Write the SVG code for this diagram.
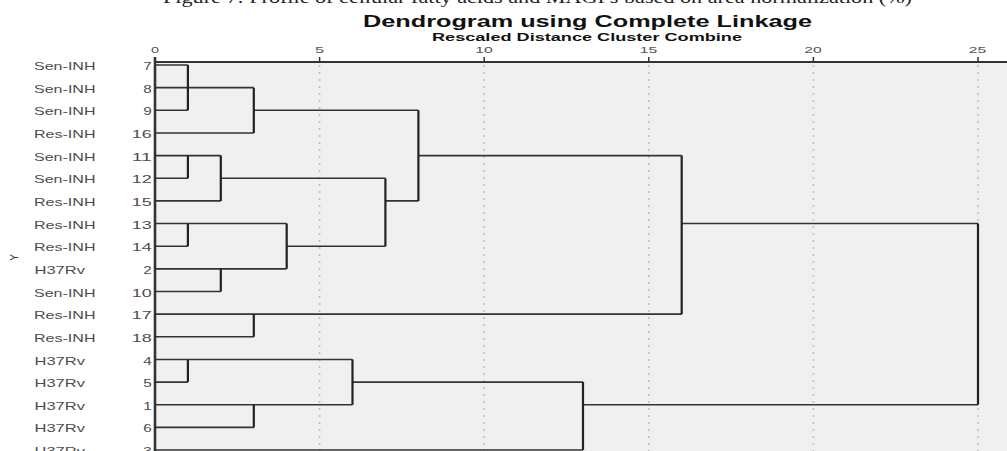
<svg xmlns="http://www.w3.org/2000/svg" width="1007" height="451" viewBox="0 0 1007 451">
<style>
.cap{font-family:"Liberation Serif",serif;font-size:17px;fill:#222}
.ttl{font-family:"Liberation Sans",Arial,sans-serif;font-weight:bold;fill:#111}
.lab{font-family:"Liberation Sans",Arial,sans-serif;font-size:10.5px;fill:#4d4d4d}
.num{font-family:"Liberation Sans",Arial,sans-serif;font-size:10.5px;fill:#4d4d4d;text-anchor:end}
.tick{font-family:"Liberation Sans",Arial,sans-serif;font-size:8.5px;fill:#555;text-anchor:middle}
.grid{stroke:#bdbdbd;stroke-width:1.5;stroke-dasharray:2 5;fill:none}
.h{stroke:#333;stroke-width:1.6;fill:none}
.v{stroke:#222;stroke-width:2.2;fill:none}
.ax{stroke:#333;fill:none}
</style>
<rect x="0" y="0" width="1007" height="451" fill="#fff"/>
<text class="cap" x="163" y="3" textLength="749" lengthAdjust="spacingAndGlyphs">Figure 7: Profile of cellular fatty acids and MAGPs based on area normalization (%)</text>
<text class="ttl" x="363" y="27" font-size="16" textLength="449" lengthAdjust="spacingAndGlyphs">Dendrogram using Complete Linkage</text>
<text class="ttl" x="432" y="40.5" font-size="10" textLength="310" lengthAdjust="spacingAndGlyphs">Rescaled Distance Cluster Combine</text>

<g id="plot-area">
<rect x="155" y="62" width="852" height="389" fill="#f0f0f0"/>
<line class="grid" x1="319.6" y1="65" x2="319.6" y2="451"/>
<line class="grid" x1="484.2" y1="65" x2="484.2" y2="451"/>
<line class="grid" x1="648.8" y1="65" x2="648.8" y2="451"/>
<line class="grid" x1="813.4" y1="65" x2="813.4" y2="451"/>
<line class="grid" x1="978" y1="65" x2="978" y2="451"/>
</g>

<g id="axis">
<line class="ax" x1="155" y1="62" x2="1007" y2="62" stroke-width="2"/>
<line class="ax" x1="155" y1="57" x2="155" y2="451" stroke-width="2.6"/>
<g stroke="#333" stroke-width="1.5">
<line x1="319.6" y1="57" x2="319.6" y2="62"/>
<line x1="484.2" y1="57" x2="484.2" y2="62"/>
<line x1="648.8" y1="57" x2="648.8" y2="62"/>
<line x1="813.4" y1="57" x2="813.4" y2="62"/>
<line x1="978" y1="57" x2="978" y2="62"/>
</g>
<text class="tick" x="155" y="52.5" textLength="8" lengthAdjust="spacingAndGlyphs">0</text>
<text class="tick" x="319.6" y="52.5" textLength="9" lengthAdjust="spacingAndGlyphs">5</text>
<text class="tick" x="484" y="52.5" textLength="17.5" lengthAdjust="spacingAndGlyphs">10</text>
<text class="tick" x="648.5" y="52.5" textLength="17.5" lengthAdjust="spacingAndGlyphs">15</text>
<text class="tick" x="813" y="52.5" textLength="17.5" lengthAdjust="spacingAndGlyphs">20</text>
<text class="tick" x="977.5" y="52.5" textLength="17.5" lengthAdjust="spacingAndGlyphs">25</text>
<text x="18" y="257.5" transform="rotate(-90 18 257.5)" font-family="Liberation Sans, Arial, sans-serif" font-size="10" fill="#333" text-anchor="middle">Y</text>
</g>

<g id="leaves">
<g id="leaf-7"><text class="lab" x="34" y="70" textLength="61.5" lengthAdjust="spacingAndGlyphs">Sen-INH</text><text class="num" x="151.7" y="70" textLength="8.5" lengthAdjust="spacingAndGlyphs">7</text></g>
<g id="leaf-8"><text class="lab" x="34" y="92.7" textLength="61.5" lengthAdjust="spacingAndGlyphs">Sen-INH</text><text class="num" x="151.7" y="92.7" textLength="8.5" lengthAdjust="spacingAndGlyphs">8</text></g>
<g id="leaf-9"><text class="lab" x="34" y="115.3" textLength="61.5" lengthAdjust="spacingAndGlyphs">Sen-INH</text><text class="num" x="151.7" y="115.3" textLength="8.5" lengthAdjust="spacingAndGlyphs">9</text></g>
<g id="leaf-16"><text class="lab" x="34" y="138" textLength="61.5" lengthAdjust="spacingAndGlyphs">Res-INH</text><text class="num" x="151.7" y="138" textLength="20" lengthAdjust="spacingAndGlyphs">16</text></g>
<g id="leaf-11"><text class="lab" x="34" y="160.6" textLength="61.5" lengthAdjust="spacingAndGlyphs">Sen-INH</text><text class="num" x="151.7" y="160.6" textLength="20" lengthAdjust="spacingAndGlyphs">11</text></g>
<g id="leaf-12"><text class="lab" x="34" y="183.3" textLength="61.5" lengthAdjust="spacingAndGlyphs">Sen-INH</text><text class="num" x="151.7" y="183.3" textLength="20" lengthAdjust="spacingAndGlyphs">12</text></g>
<g id="leaf-15"><text class="lab" x="34" y="205.9" textLength="61.5" lengthAdjust="spacingAndGlyphs">Res-INH</text><text class="num" x="151.7" y="205.9" textLength="20" lengthAdjust="spacingAndGlyphs">15</text></g>
<g id="leaf-13"><text class="lab" x="34" y="228.6" textLength="61.5" lengthAdjust="spacingAndGlyphs">Res-INH</text><text class="num" x="151.7" y="228.6" textLength="20" lengthAdjust="spacingAndGlyphs">13</text></g>
<g id="leaf-14"><text class="lab" x="34" y="251.2" textLength="61.5" lengthAdjust="spacingAndGlyphs">Res-INH</text><text class="num" x="151.7" y="251.2" textLength="20" lengthAdjust="spacingAndGlyphs">14</text></g>
<g id="leaf-2"><text class="lab" x="34.5" y="273.9" textLength="50.5" lengthAdjust="spacingAndGlyphs">H37Rv</text><text class="num" x="151.7" y="273.9" textLength="8.5" lengthAdjust="spacingAndGlyphs">2</text></g>
<g id="leaf-10"><text class="lab" x="34" y="296.5" textLength="61.5" lengthAdjust="spacingAndGlyphs">Sen-INH</text><text class="num" x="151.7" y="296.5" textLength="20" lengthAdjust="spacingAndGlyphs">10</text></g>
<g id="leaf-17"><text class="lab" x="34" y="319.2" textLength="61.5" lengthAdjust="spacingAndGlyphs">Res-INH</text><text class="num" x="151.7" y="319.2" textLength="20" lengthAdjust="spacingAndGlyphs">17</text></g>
<g id="leaf-18"><text class="lab" x="34" y="341.8" textLength="61.5" lengthAdjust="spacingAndGlyphs">Res-INH</text><text class="num" x="151.7" y="341.8" textLength="20" lengthAdjust="spacingAndGlyphs">18</text></g>
<g id="leaf-4"><text class="lab" x="34.5" y="364.5" textLength="50.5" lengthAdjust="spacingAndGlyphs">H37Rv</text><text class="num" x="151.7" y="364.5" textLength="8.5" lengthAdjust="spacingAndGlyphs">4</text></g>
<g id="leaf-5"><text class="lab" x="34.5" y="387.1" textLength="50.5" lengthAdjust="spacingAndGlyphs">H37Rv</text><text class="num" x="151.7" y="387.1" textLength="8.5" lengthAdjust="spacingAndGlyphs">5</text></g>
<g id="leaf-1"><text class="lab" x="34.5" y="409.8" textLength="50.5" lengthAdjust="spacingAndGlyphs">H37Rv</text><text class="num" x="151.7" y="409.8" textLength="8.5" lengthAdjust="spacingAndGlyphs">1</text></g>
<g id="leaf-6"><text class="lab" x="34.5" y="432.4" textLength="50.5" lengthAdjust="spacingAndGlyphs">H37Rv</text><text class="num" x="151.7" y="432.4" textLength="8.5" lengthAdjust="spacingAndGlyphs">6</text></g>
<g id="leaf-3"><text class="lab" x="34.5" y="455.1" textLength="50.5" lengthAdjust="spacingAndGlyphs">H37Rv</text><text class="num" x="151.7" y="455.1" textLength="8.5" lengthAdjust="spacingAndGlyphs">3</text></g>
</g>

<g id="connectors">
<path class="h" d="M155 65H187.9 M155 87.65H253.8 M155 110.3H187.9 M253.8 110.3H418.4 M155 132.95H253.8 M155 155.6H220.8 M418.4 155.6H681.7 M155 178.25H187.9 M220.8 178.25H385.4 M155 200.9H220.8 M385.4 200.9H418.4 M155 223.55H286.7 M681.7 223.55H978 M155 246.2H187.9 M286.7 246.2H385.4 M155 268.85H286.7 M155 291.5H220.8 M155 314.15H681.7 M155 336.8H253.8 M155 359.45H352.5 M155 382.1H187.9 M352.5 382.1H583 M155 404.75H352.5 M583 404.75H978 M155 427.4H253.8 M155 450.05H583"/>
<path class="v" d="M187.9 65V110.3 M253.8 87.65V132.95 M418.4 110.3V200.9 M187.9 155.6V178.25 M220.8 155.6V200.9 M385.4 178.25V246.2 M187.9 223.55V246.2 M220.8 268.85V291.5 M286.7 223.55V268.85 M681.7 155.6V314.15 M253.8 314.15V336.8 M187.9 359.45V382.1 M253.8 404.75V427.4 M352.5 359.45V404.75 M583 382.1V450.05 M978 223.55V404.75"/>
</g>
</svg>
